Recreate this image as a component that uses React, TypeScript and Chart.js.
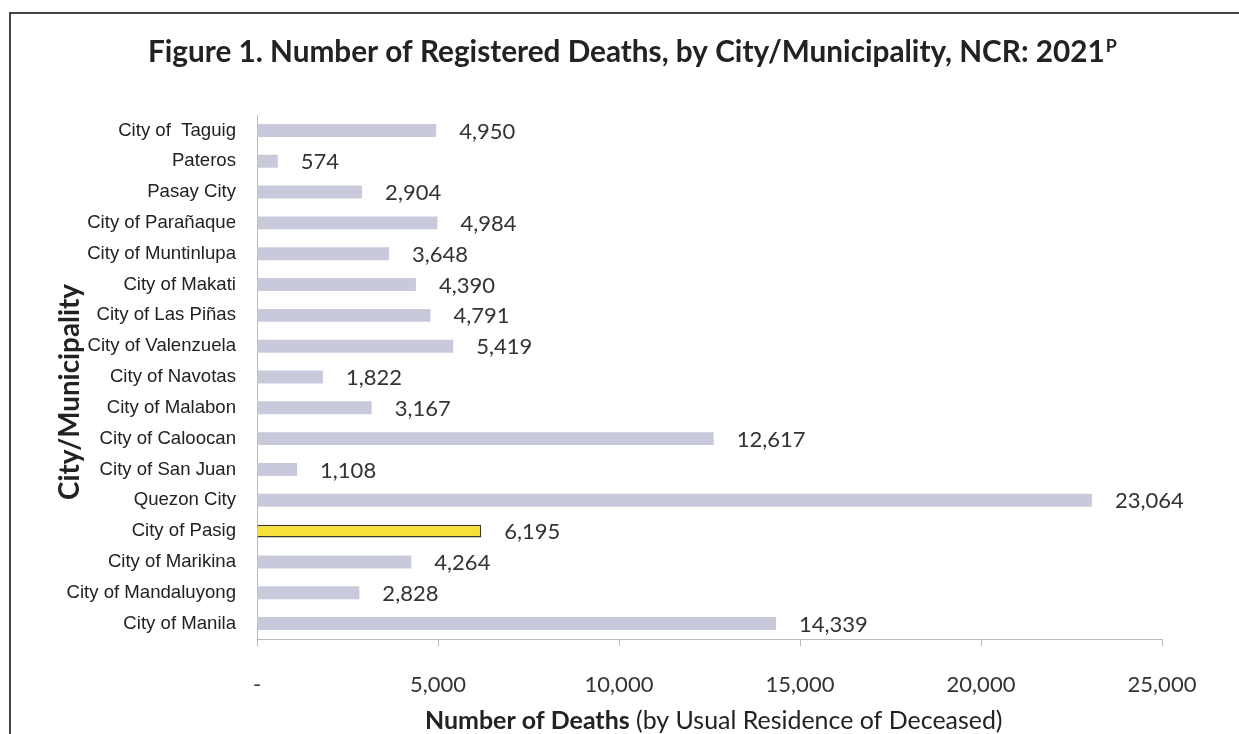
import React, { useEffect, useRef } from "react";
import { Chart, registerables } from "chart.js";

Chart.register(...registerables);

const categories = [
  "City of  Taguig",
  "Pateros",
  "Pasay City",
  "City of Parañaque",
  "City of Muntinlupa",
  "City of Makati",
  "City of Las Piñas",
  "City of Valenzuela",
  "City of Navotas",
  "City of Malabon",
  "City of Caloocan",
  "City of San Juan",
  "Quezon City",
  "City of Pasig",
  "City of Marikina",
  "City of Mandaluyong",
  "City of Manila",
];

const deaths = [
  4950, 574, 2904, 4984, 3648, 4390, 4791, 5419, 1822, 3167, 12617, 1108,
  23064, 6195, 4264, 2828, 14339,
];

const highlighted = "City of Pasig";

const xTickLabels = ["-", "5,000", "10,000", "15,000", "20,000", "25,000"];

const titleText = "Figure 1. Number of Registered Deaths, by City/Municipality, NCR: 2021";
const titleSup = "P";
const yTitle = "City/Municipality";
const xTitleBold = "Number of Deaths";
const xTitleRest = " (by Usual Residence of Deceased)";

const CAL = "Lato";

function fitSize(ctx: CanvasRenderingContext2D, parts: { text: string; weight: string; scale?: number }[], target: number) {
  const base = 100;
  let w = 0;
  for (const p of parts) {
    ctx.font = `${p.weight} ${base * (p.scale || 1)}px ${CAL}`;
    w += ctx.measureText(p.text).width;
  }
  return (base * target) / w;
}

const textPlugin = {
  id: "texts",
  beforeDraw(chart: any) {
    const ctx = chart.ctx as CanvasRenderingContext2D;
    ctx.save();
    ctx.fillStyle = "#ffffff";
    ctx.fillRect(0, 0, chart.width, chart.height);
    // frame
    ctx.strokeStyle = "#444";
    ctx.lineWidth = 2;
    ctx.strokeRect(10, 13, chart.width + 20, chart.height + 20);
    ctx.restore();
  },
  afterDraw(chart: any) {
    const ctx = chart.ctx as CanvasRenderingContext2D;
    ctx.save();
    ctx.fillStyle = "#222";
    ctx.textBaseline = "alphabetic";
    // title
    const ts = fitSize(ctx, [{ text: titleText, weight: "bold" }, { text: titleSup, weight: "bold", scale: 0.6 }], 968);
    let x = 148;
    ctx.textAlign = "left";
    ctx.font = `bold ${ts}px ${CAL}`;
    ctx.fillText(titleText, x, 62);
    x += ctx.measureText(titleText).width + 1;
    ctx.font = `bold ${ts * 0.6}px ${CAL}`;
    ctx.fillText(titleSup, x, 52);

    // x title
    const xs = fitSize(ctx, [{ text: xTitleBold, weight: "bold" }, { text: xTitleRest, weight: "normal" }], 578);
    x = 425;
    ctx.font = `bold ${xs}px ${CAL}`;
    ctx.fillText(xTitleBold, x, 729);
    x += ctx.measureText(xTitleBold).width;
    ctx.font = `normal ${xs}px ${CAL}`;
    ctx.fillText(xTitleRest, x, 729);

    // y title
    const ys = fitSize(ctx, [{ text: yTitle, weight: "bold" }], 216);
    ctx.translate(70, 392);
    ctx.rotate(-Math.PI / 2);
    ctx.textAlign = "center";
    ctx.textBaseline = "middle";
    ctx.font = `bold ${ys}px ${CAL}`;
    ctx.fillText(yTitle, 0, 0);
    ctx.restore();
  },
  afterDatasetsDraw(chart: any) {
    const ctx = chart.ctx as CanvasRenderingContext2D;
    const meta = chart.getDatasetMeta(0);
    ctx.save();
    ctx.fillStyle = "#333";
    ctx.font = `normal 22px ${CAL}`;
    ctx.textAlign = "left";
    ctx.textBaseline = "middle";
    meta.data.forEach((el: any, i: number) => {
      ctx.fillText(deaths[i].toLocaleString("en-US"), el.x + 23, el.y + 1);
    });
    ctx.restore();
  },
};

export default function App() {
  const ref = useRef<HTMLCanvasElement | null>(null);
  useEffect(() => {
    document.body.style.margin = "0";
    const canvas = ref.current!;
    const chart = new Chart(canvas, {
      type: "bar",
      data: {
        labels: categories,
        datasets: [
          {
            data: deaths,
            backgroundColor: categories.map((c) => (c === highlighted ? "#f7e03a" : "#c9c9dc")),
            borderColor: categories.map((c) => (c === highlighted ? "#3a3a2a" : "rgba(0,0,0,0)")),
            borderWidth: categories.map((c) => (c === highlighted ? 1.5 : 0)),
            barPercentage: 0.42,
            categoryPercentage: 1,
          },
        ],
      },
      options: {
        indexAxis: "y",
        responsive: false,
        animation: false,
        layout: { padding: { top: 115, right: 77, left: 0, bottom: 0 } },
        plugins: {
          legend: { display: false },
          tooltip: { enabled: false },
          title: { display: false },
        },
        scales: {
          x: {
            min: 0,
            max: 25000,
            ticks: {
              stepSize: 5000,
              callback: (_v: any, i: number) => xTickLabels[i],
              font: { family: CAL, size: 22 },
              color: "#333",
              padding: 26,
              maxRotation: 0,
            },
            grid: {
              display: true,
              drawOnChartArea: false,
              drawTicks: true,
              tickLength: 7,
              color: "#b8b8c0",
            },
            border: { display: true, color: "#b8b8c0", width: 1 },
            afterFit: (s: any) => {
              s.height = 95;
            },
          },
          y: {
            ticks: {
              font: { family: "Liberation Sans", size: 18.6 },
              color: "#222",
              padding: 21,
              autoSkip: false,
            },
            grid: { display: false, drawTicks: false },
            border: { display: true, color: "#b8b8c0", width: 1 },
            afterFit: (s: any) => {
              s.width = 257;
            },
          },
        },
      },
      plugins: [textPlugin],
    } as any);
    return () => chart.destroy();
  }, []);
  return (
    <div style={{ width: 1239, height: 734 }}>
      <canvas ref={ref} width={1239} height={734} style={{ display: "block" }} />
    </div>
  );
}
